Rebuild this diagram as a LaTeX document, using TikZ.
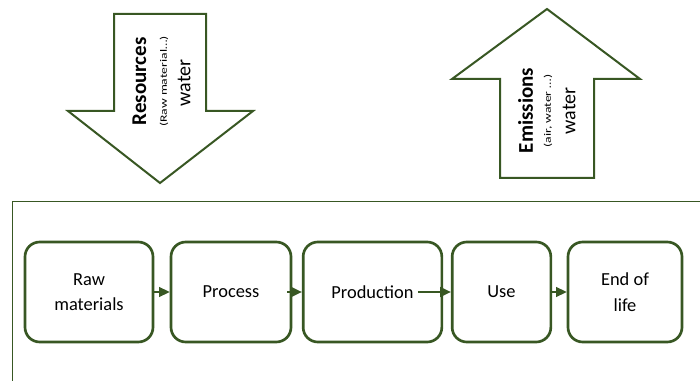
\documentclass[tikz,border=0pt]{standalone}
\usepackage{fontspec}
\setmainfont{Carlito}
\usepackage{tikz}
\usetikzlibrary{arrows.meta}
\definecolor{leafgreen}{RGB}{56,87,35}

\begin{document}
\begin{tikzpicture}[x=0.75pt, y=-0.75pt,
    stage/.style={draw=leafgreen, line width=2pt, rounded corners=11pt,
        minimum height=75pt, align=center, inner sep=0pt,
        font=\fontsize{13.8}{19.2}\selectfont},
    flow/.style={draw=leafgreen, line width=1.1pt, -{Triangle[length=8pt, width=7.5pt]}},
    bigarrow/.style={draw=leafgreen, line width=1.5pt, fill=white},
    title/.style={rotate=90, inner sep=0pt, font=\fontsize{15.75}{18}\selectfont\bfseries},
    sub/.style={rotate=90, inner sep=0pt, font=\fontsize{7.3}{8}\selectfont},
    flux/.style={rotate=90, inner sep=0pt, font=\fontsize{15}{18}\selectfont}]
    \useasboundingbox (0,0) rectangle (700,381);

    % frame around the life cycle
    \draw[leafgreen, line width=0.75pt] (12,381) |- (700,202);

    % resources going in
    \draw[bigarrow] (114,14) -- (206,14) -- (206,111) -- (253,111)
        -- (160,183) -- (68,111) -- (114,111) -- cycle;
    \node[title](r1) at (139.5,81.5) {Resources};
    \node[sub](r2)   at (164,81.5) {\scalebox{1.4}[1]{(Raw material…)}};
    \node[flux](r3)  at (184,83) {water};

    % emissions going out
    \draw[bigarrow] (547,9) -- (640,79) -- (594,79) -- (594,178)
        -- (500,178) -- (500,79) -- (452,79) -- cycle;
    \node[title](e1) at (525.5,110.5) {Emissions};
    \node[sub](e2)   at (548,111) {\scalebox{1.4}[1]{(air, water …)}};
    \node[flux](e3)  at (569,111) {water};

    % life cycle stages
    \node[stage, minimum width=96pt](1)    at (89,292) {Raw\\materials};
    \node[stage, minimum width=90pt](2)    at (231,292) {Process};
    \node[stage, minimum width=104pt](3)   at (372.5,292) {Production};
    \node[stage, minimum width=74pt](4)    at (501.5,292) {Use};
    \node[stage, minimum width=85.5pt](5)  at (625,292) {End of\\life};
    \path
        (1) edge [flow] (2)
        ([xshift=-4pt]2.east) edge [flow] (3)
        ([xshift=-19pt]3.east) edge [flow] (4)
        (4) edge [flow] (5)
        ;
\end{tikzpicture}
\end{document}
